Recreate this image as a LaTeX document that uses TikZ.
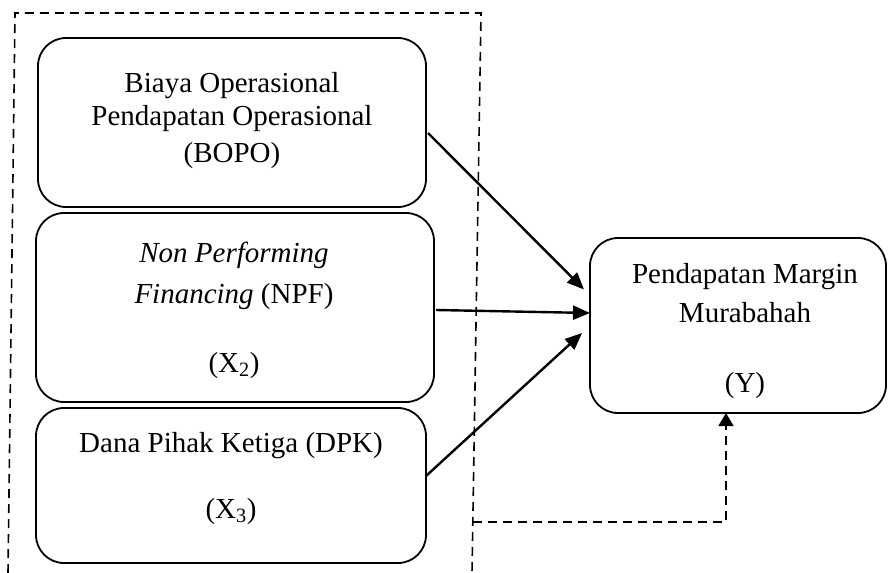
\documentclass[tikz,border=0pt]{standalone}
\usepackage{fontspec}
\setmainfont{Liberation Serif}
\usetikzlibrary{arrows.meta,calc}

\tikzset{
  varbox/.style={draw, line width=1.8pt, rounded corners=28pt, inner sep=0pt, outer sep=0pt},
  lbl/.style={anchor=base, inner sep=0pt, font=\fontsize{29}{34}\selectfont},
  frame/.style={line width=1.6pt, dash pattern=on 9pt off 6pt},
  effect/.style={line width=2.4pt, -{Triangle[length=17pt,width=14pt]}},
  moderate/.style={frame, -{Triangle[length=13pt,width=15pt]}}
}

\begin{document}
\begin{tikzpicture}[x=1pt,y=-1pt]
  \useasboundingbox (0,0) rectangle (889,573);

  % independent variables
  \node[varbox, minimum width=388pt, minimum height=169pt] (b1) at (232,122.5) {};
  \node[varbox, minimum width=398pt, minimum height=189pt] (b2) at (235,307.5) {};
  \node[varbox, minimum width=390pt, minimum height=155pt] (b3) at (231,485.5) {};
  % dependent variable
  \node[varbox, minimum width=296pt, minimum height=175pt] (by) at (738,325.5) {};

  % labels
  \node[lbl] (t1a) at (232,92) {Biaya Operasional};
  \node[lbl] (t1b) at (232,125) {Pendapatan Operasional};
  \node[lbl] (t1c) at (232,162) {(BOPO)};

  \node[lbl] (t2a) at (234,262) {\itshape Non Performing};
  \node[lbl] (t2b) at (234,303) {\textit{Financing} (NPF)};
  \node[lbl] (t2c) at (234,372) {(X\textsubscript{2})};

  \node[lbl] (t3a) at (231,452) {Dana Pihak Ketiga (DPK)};
  \node[lbl] (t3b) at (231,518) {(X\textsubscript{3})};

  \node[lbl] (tya) at (745,283) {Pendapatan Margin};
  \node[lbl] (tyb) at (745,322) {Murabahah};
  \node[lbl] (tyc) at (745,392) {(Y)};

  % dashed frame around the independent variables, open at the bottom
  \coordinate (fbl) at (8,573);
  \coordinate (ftl) at (15,13);
  \coordinate (ftr) at (481,13);
  \coordinate (fbr) at (472,573);
  \draw[frame] (fbl) -- (ftl) -- (ftr) -- (fbr);

  % direct effects
  \draw[effect] ($(b1.east)+(2,10.5)$) -- ($(by.west)+(-6,-36)$);
  \draw[effect] ($(b2.east)+(2,2.5)$) -- ($(by.west)+(0,-12.5)$);
  \draw[effect] ($(b3.east)+(0,-9.5)$) -- ($(by.west)+(-8,7.5)$);

  % joint effect
  \coordinate (fj) at (473,522);
  \coordinate (fk) at (726,522);
  \draw[moderate] (fj) -- (fk) -- (fk |- by.south);
\end{tikzpicture}
\end{document}
